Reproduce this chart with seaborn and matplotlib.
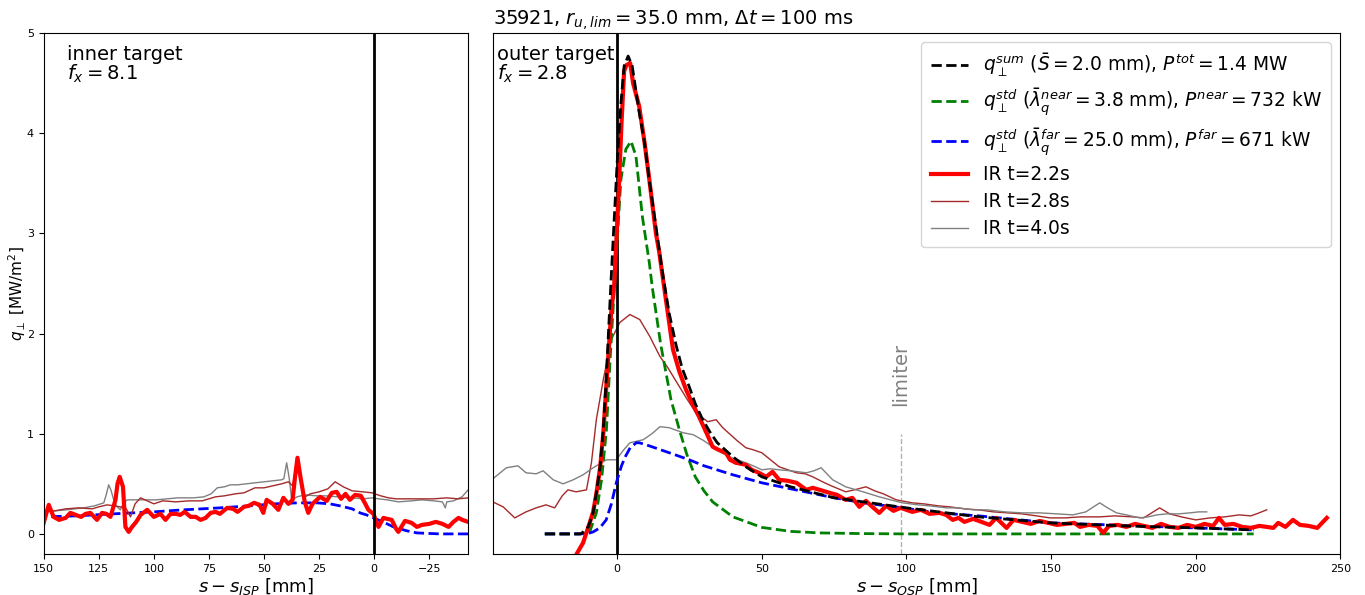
import numpy as np
import matplotlib
matplotlib.use("Agg")
import matplotlib.pyplot as plt
import seaborn as sns

# ---- outer target (right panel) ----
sum_x = [-25, -12.5, -10, -8.3, -7.2, -5.9, -4.8, -3.8, -2.1, 0, 1.3, 2.4, 3.8, 5.2, 7.6, 9.5, 11, 13,
         15.6, 18, 20.4, 22.5, 24.9, 27, 29.4, 32, 34.6, 40, 45, 50, 60, 75, 90, 100, 125, 150, 175, 200, 220]
sum_q = [0, 0, 0.07, 0.21, 0.41, 0.67, 1.04, 1.54, 2.54, 3.71, 4.3, 4.67, 4.77, 4.67, 4.21, 3.9, 3.55, 3.15,
         2.62, 2.2, 1.88, 1.65, 1.47, 1.3, 1.15, 1.02, 0.91, 0.77, 0.66, 0.57, 0.47, 0.36, 0.3, 0.26, 0.17,
         0.11, 0.08, 0.06, 0.04]

near_x = [-25, -13, -9.5, -7.2, -5.4, -3.7, -2.5, -0.8, 1.3, 3.0, 4.8, 6.5, 8.7, 11.1, 12.1, 15, 18.6,
          21.5, 24, 27, 30, 33, 40, 50, 60, 70, 85, 100, 220]
near_q = [0, 0, 0.02, 0.21, 0.54, 1.04, 1.71, 2.54, 3.54, 3.84, 3.92, 3.77, 3.17, 2.71, 2.47, 1.9, 1.34,
          1.04, 0.8, 0.57, 0.43, 0.32, 0.17, 0.065, 0.025, 0.01, 0.003, 0.0, 0.0]

far_x = [-25, -13, -10, -8.3, -6, -3.8, -2, -0.3, 1.5, 2.8, 4.5, 6.6, 7.6, 10, 15, 20, 24.9, 30, 40, 50,
         60, 73.4, 85, 98.6, 111, 125, 150, 175, 200, 220]
far_q = [0, 0, 0.005, 0.02, 0.06, 0.14, 0.3, 0.51, 0.68, 0.77, 0.86, 0.91, 0.91, 0.89, 0.84, 0.79, 0.74,
         0.68, 0.59, 0.51, 0.45, 0.37, 0.31, 0.26, 0.21, 0.18, 0.11, 0.085, 0.06, 0.04]

ir22_x = [-14.2, -11.8, -9.5, -8.3, -7.2, -5.9, -4.8, -3.8, -2.1, -1.0, 0.5, 1.5, 2.4, 3.2, 4.5, 5.5, 7.6,
          9.5, 11.1, 13.4, 14.5, 16.3, 19.3, 21.5, 23.8, 26, 28.3, 31, 33, 35, 37.6, 39, 41, 42.8, 44.5,
          46.5, 49, 51.5, 53.7, 56, 59, 62, 65.4, 67.6, 70, 73.4, 76, 79, 81.3, 83.7, 86, 88.2, 90.6, 93,
          95.5, 98, 102, 105, 108, 111.4, 113.7, 116, 118, 120, 123, 125, 128.7, 131, 134.6, 137, 140, 143,
          146, 149, 152, 155, 158, 160, 163, 166, 168, 170, 173, 176, 179, 182, 185, 188, 191, 194, 197,
          200, 203, 206, 208, 210, 213, 216, 219, 222, 224.5, 226.8, 228.5, 231, 233.6, 236, 239, 242, 245.3]
ir22_q = [-0.21, -0.09, 0.11, 0.22, 0.40, 0.66, 1.0, 1.45, 2.2, 2.5, 3.4, 4.1, 4.62, 4.68, 4.7, 4.5, 4.27,
          3.9, 3.54, 3.0, 2.82, 2.45, 1.84, 1.62, 1.44, 1.3, 1.17, 1.0, 0.87, 0.84, 0.81, 0.74, 0.71, 0.7,
          0.69, 0.64, 0.61, 0.57, 0.62, 0.54, 0.53, 0.51, 0.44, 0.46, 0.44, 0.41, 0.39, 0.34, 0.36, 0.27,
          0.33, 0.27, 0.21, 0.28, 0.23, 0.26, 0.22, 0.24, 0.2, 0.21, 0.19, 0.14, 0.16, 0.12, 0.15, 0.13,
          0.09, 0.16, 0.06, 0.14, 0.12, 0.1, 0.13, 0.11, 0.09, 0.1, 0.11, 0.07, 0.09, 0.08, 0.01, 0.08,
          0.09, 0.07, 0.1, 0.08, 0.06, 0.1, 0.07, 0.06, 0.09, 0.07, 0.1, 0.08, 0.16, 0.09, 0.1, 0.07, 0.06,
          0.08, 0.07, 0.06, 0.11, 0.07, 0.14, 0.09, 0.08, 0.06, 0.16]

ir28_x = [-43, -39.4, -35.4, -31.5, -28, -24.6, -21.6, -19, -17, -14.2, -10.6, -8.9, -7.2, -4.8, -2, 0.9,
          4.4, 7.8, 11.3, 14.8, 17.5, 19.4, 21.5, 24.5, 27.2, 29, 31.3, 34.2, 36.5, 38.8, 41.5, 44.5, 47,
          50, 53, 56, 59, 62, 65, 67.6, 71, 74, 79, 82, 86, 89, 92, 96.5, 102, 106, 111, 115, 120, 125,
          130, 135, 140, 145, 149.5, 155, 160, 166.8, 172, 178, 182, 187.5, 191, 195, 200, 205, 210, 215,
          219, 221, 224.5]
ir28_q = [0.32, 0.27, 0.16, 0.22, 0.26, 0.29, 0.26, 0.38, 0.44, 0.42, 0.44, 0.71, 1.14, 1.54, 1.94, 2.11,
          2.19, 2.14, 1.97, 1.77, 1.66, 1.57, 1.47, 1.33, 1.21, 1.17, 1.12, 1.14, 1.06, 1.0, 0.93, 0.86,
          0.84, 0.81, 0.74, 0.67, 0.64, 0.61, 0.6, 0.57, 0.52, 0.48, 0.42, 0.44, 0.47, 0.43, 0.4, 0.34,
          0.31, 0.3, 0.28, 0.27, 0.25, 0.24, 0.22, 0.21, 0.2, 0.18, 0.16, 0.16, 0.17, 0.17, 0.18, 0.17,
          0.16, 0.26, 0.2, 0.17, 0.14, 0.16, 0.17, 0.19, 0.18, 0.2, 0.24]

ir40_x = [-43, -38.3, -34.3, -31.5, -28, -25.6, -22.1, -18.7, -15.2, -11.8, -8.3, -6, -3.7, -0.3, 2, 4.4,
          9, 12, 14.8, 18, 22.8, 26.3, 30, 33, 36, 38.8, 41.5, 44.5, 47, 50, 53, 56, 60, 65.4, 68, 70.5,
          72.5, 74.5, 79, 85, 90.6, 94.5, 98.6, 104, 108, 113.7, 118, 123, 128, 134, 140, 146, 152, 157.5,
          162, 166.8, 169.5, 172.6, 176, 180.6, 183.5, 186.6, 190, 194, 198, 201, 203.8]
ir40_q = [0.55, 0.66, 0.68, 0.61, 0.60, 0.63, 0.54, 0.50, 0.54, 0.59, 0.66, 0.7, 0.74, 0.74, 0.83, 0.91,
          0.94, 1.0, 1.07, 1.06, 1.01, 0.99, 0.93, 0.87, 0.81, 0.77, 0.74, 0.71, 0.68, 0.64, 0.65, 0.64,
          0.63, 0.61, 0.63, 0.66, 0.6, 0.54, 0.47, 0.42, 0.37, 0.34, 0.31, 0.29, 0.28, 0.26, 0.26, 0.24,
          0.24, 0.22, 0.21, 0.21, 0.2, 0.19, 0.22, 0.31, 0.26, 0.21, 0.19, 0.16, 0.17, 0.19, 0.2, 0.2, 0.21,
          0.22, 0.22]

# ---- inner target (left panel) ----
in_far_x = [-42.7, -30, -19.4, -15, -8.8, -4, 0.3, 3.5, 6.4, 10, 15.5, 20, 26, 35, 45, 56.4, 70, 86.8,
            100, 118.6, 135, 150]
in_far_q = [0.0, 0.0, 0.01, 0.03, 0.07, 0.12, 0.16, 0.19, 0.21, 0.25, 0.28, 0.3, 0.31, 0.31, 0.3, 0.28,
            0.26, 0.24, 0.22, 0.2, 0.18, 0.17]

in22_x = [-42.7, -40, -38.3, -36, -33.8, -31, -28, -25, -21.7, -19.4, -17, -14, -11, -10, -8, -6, -4.2,
          -2, -1.2, 0.3, 2.6, 4, 6, 8.6, 11, 13, 15, 17, 19.2, 21.5, 24.5, 26, 28, 29.9, 31.5, 33.3, 34.8,
          36, 37, 38.9, 41.2, 43.5, 46, 48.8, 50.3, 52, 54.5, 57, 59.1, 62, 64, 66.7, 70, 72, 74.2, 76.5,
          78.8, 81, 83.3, 86, 88, 90, 92.4, 94.7, 97, 100, 103, 106, 108, 109.9, 111.4, 112.9, 114, 115.5,
          116.5, 117.4, 119.7, 121.5, 123.5, 125.8, 128.8, 131, 133, 135.5, 137.9, 140, 143, 145.5, 147.7,
          150]
in22_q = [0.12, 0.14, 0.16, 0.12, 0.07, 0.1, 0.12, 0.1, 0.09, 0.07, 0.11, 0.13, 0.02, 0.05, 0.14, 0.15,
          0.16, 0.07, 0.11, 0.2, 0.24, 0.3, 0.38, 0.39, 0.34, 0.4, 0.35, 0.42, 0.41, 0.33, 0.37, 0.34, 0.3,
          0.21, 0.32, 0.55, 0.76, 0.55, 0.34, 0.3, 0.36, 0.24, 0.3, 0.34, 0.21, 0.29, 0.31, 0.28, 0.27,
          0.22, 0.25, 0.26, 0.2, 0.22, 0.21, 0.16, 0.14, 0.17, 0.17, 0.22, 0.19, 0.2, 0.2, 0.14, 0.2, 0.17,
          0.24, 0.19, 0.12, 0.07, 0.02, 0.07, 0.47, 0.57, 0.5, 0.34, 0.17, 0.2, 0.21, 0.14, 0.21, 0.2, 0.17,
          0.19, 0.21, 0.16, 0.14, 0.17, 0.29, 0.11]

in28_x = [-42.7, -38, -33, -27, -21.7, -15, -10, -6.5, -3, 1, 5, 10, 14, 17.7, 21, 25, 29, 32.1, 33.5,
          34.8, 36, 37, 38.9, 42, 46, 50, 54.1, 59.1, 63, 68, 72, 78, 84, 90, 96, 100, 106, 108.5, 110.6,
          112.5, 115.2, 118, 121.2, 125, 128, 134, 140, 145, 150]
in28_q = [0.36, 0.35, 0.36, 0.35, 0.35, 0.35, 0.35, 0.36, 0.38, 0.41, 0.42, 0.43, 0.47, 0.52, 0.45, 0.42,
          0.4, 0.36, 0.55, 0.77, 0.6, 0.48, 0.52, 0.5, 0.48, 0.46, 0.46, 0.41, 0.4, 0.38, 0.37, 0.33, 0.33,
          0.32, 0.33, 0.3, 0.36, 0.3, 0.17, 0.25, 0.27, 0.28, 0.29, 0.27, 0.25, 0.26, 0.25, 0.23, 0.22]

in40_x = [-42.7, -39.9, -36, -33, -32.3, -31, -27, -21.7, -17, -11, -6, -2, 1, 5, 10, 16.2, 22, 26, 31.4,
          35, 37.4, 38.5, 39.7, 41, 42, 46, 50, 54.1, 58, 62, 65.2, 68, 71.2, 74, 77.3, 82, 86, 89.4, 94,
          99, 104.5, 108, 112.1, 114, 115.2, 117, 118.2, 119.5, 120.5, 121.5, 122.7, 127, 131.8, 136, 140,
          145, 150]
in40_q = [0.44, 0.37, 0.33, 0.32, 0.26, 0.32, 0.33, 0.34, 0.33, 0.32, 0.34, 0.35, 0.36, 0.35, 0.36, 0.37,
          0.38, 0.38, 0.39, 0.37, 0.34, 0.55, 0.71, 0.55, 0.54, 0.53, 0.52, 0.51, 0.5, 0.49, 0.49, 0.47,
          0.46, 0.4, 0.37, 0.36, 0.36, 0.36, 0.35, 0.34, 0.34, 0.34, 0.34, 0.3, 0.24, 0.28, 0.34, 0.44, 0.49,
          0.4, 0.31, 0.28, 0.26, 0.25, 0.24, 0.23, 0.24]

limiter_pos = 98

lbl_sum = r'$q_\perp^{sum}$ ($\bar{S}=2.0$ mm), $P^{tot}=1.4$ MW'
lbl_near = r'$q_\perp^{std}$ ($\bar{\lambda}_q^{near}=3.8$ mm), $P^{near}=732$ kW'
lbl_far = r'$q_\perp^{std}$ ($\bar{\lambda}_q^{far}=25.0$ mm), $P^{far}=671$ kW'

fig = plt.figure(figsize=(13.65, 5.95), dpi=100)
ax_in = fig.add_axes([0.032, 0.069, 0.311, 0.8755])
ax_out = fig.add_axes([0.361, 0.069, 0.621, 0.8755], sharey=ax_in)


def draw(ax, x, y, **kw):
    sns.lineplot(x=x, y=y, ax=ax, sort=False, estimator=None, **kw)


# left panel
draw(ax_in, in_far_x, in_far_q, color='blue', lw=2, ls='--', legend=False)
draw(ax_in, in40_x, in40_q, color='gray', lw=1, legend=False)
draw(ax_in, in28_x, in28_q, color='brown', lw=1, legend=False)
draw(ax_in, in22_x, in22_q, color='red', lw=3, legend=False)
ax_in.axvline(0, color='black', lw=2)
ax_in.set_xlim(150, -42.7)
ax_in.set_ylim(-0.2, 5)
ax_in.set_xticks([150, 125, 100, 75, 50, 25, 0, -25])
ax_in.set_yticks([0, 1, 2, 3, 4, 5])
ax_in.tick_params(labelsize=8)
ax_in.set_xlabel(r'$s - s_{ISP}$ [mm]', fontsize=13, labelpad=2)
ax_in.set_ylabel(r'$q_\perp$ [MW/m$^2$]', fontsize=11)
ax_in.yaxis.set_label_coords(-0.036, 0.5)
ax_in.text(0.054, 0.977, 'inner target\n$f_x=8.1$', transform=ax_in.transAxes,
           fontsize=14, va='top', ha='left', linespacing=0.95)

# right panel
draw(ax_out, sum_x, sum_q, color='black', lw=2, ls='--', label=lbl_sum, zorder=5)
draw(ax_out, near_x, near_q, color='green', lw=2, ls='--', label=lbl_near, zorder=3)
draw(ax_out, far_x, far_q, color='blue', lw=2, ls='--', label=lbl_far, zorder=3)
draw(ax_out, ir22_x, ir22_q, color='red', lw=3, label='IR t=2.2s', zorder=4)
draw(ax_out, ir28_x, ir28_q, color='brown', lw=1, label='IR t=2.8s', zorder=2)
draw(ax_out, ir40_x, ir40_q, color='gray', lw=1, label='IR t=4.0s', zorder=2)
ax_out.axvline(0, color='black', lw=2)
ax_out.plot([limiter_pos, limiter_pos], [-0.2, 1.0], color='gray', alpha=0.6, lw=1, ls='--')
ax_out.text(limiter_pos, 1.28, 'limiter', rotation=90, color='gray', fontsize=14,
            ha='center', va='bottom')
ax_out.set_xlim(-43, 250)
ax_out.set_xticks([0, 50, 100, 150, 200, 250])
ax_out.tick_params(labelsize=8)
ax_out.tick_params(axis='y', left=False, labelleft=False)
ax_out.set_xlabel(r'$s - s_{OSP}$ [mm]', fontsize=13, labelpad=2)
ax_out.set_title(r'35921, $r_{u,lim}=35.0$ mm, $\Delta t=100$ ms', loc='left', fontsize=14, pad=6)
ax_out.text(0.005, 0.977, 'outer target\n$f_x=2.8$', transform=ax_out.transAxes,
            fontsize=14, va='top', ha='left', linespacing=0.95)
ax_out.legend(loc='upper right', fontsize=13.4, handlelength=2.0, borderpad=0.5, labelspacing=0.42)

fig.savefig('out.png', dpi=100)
